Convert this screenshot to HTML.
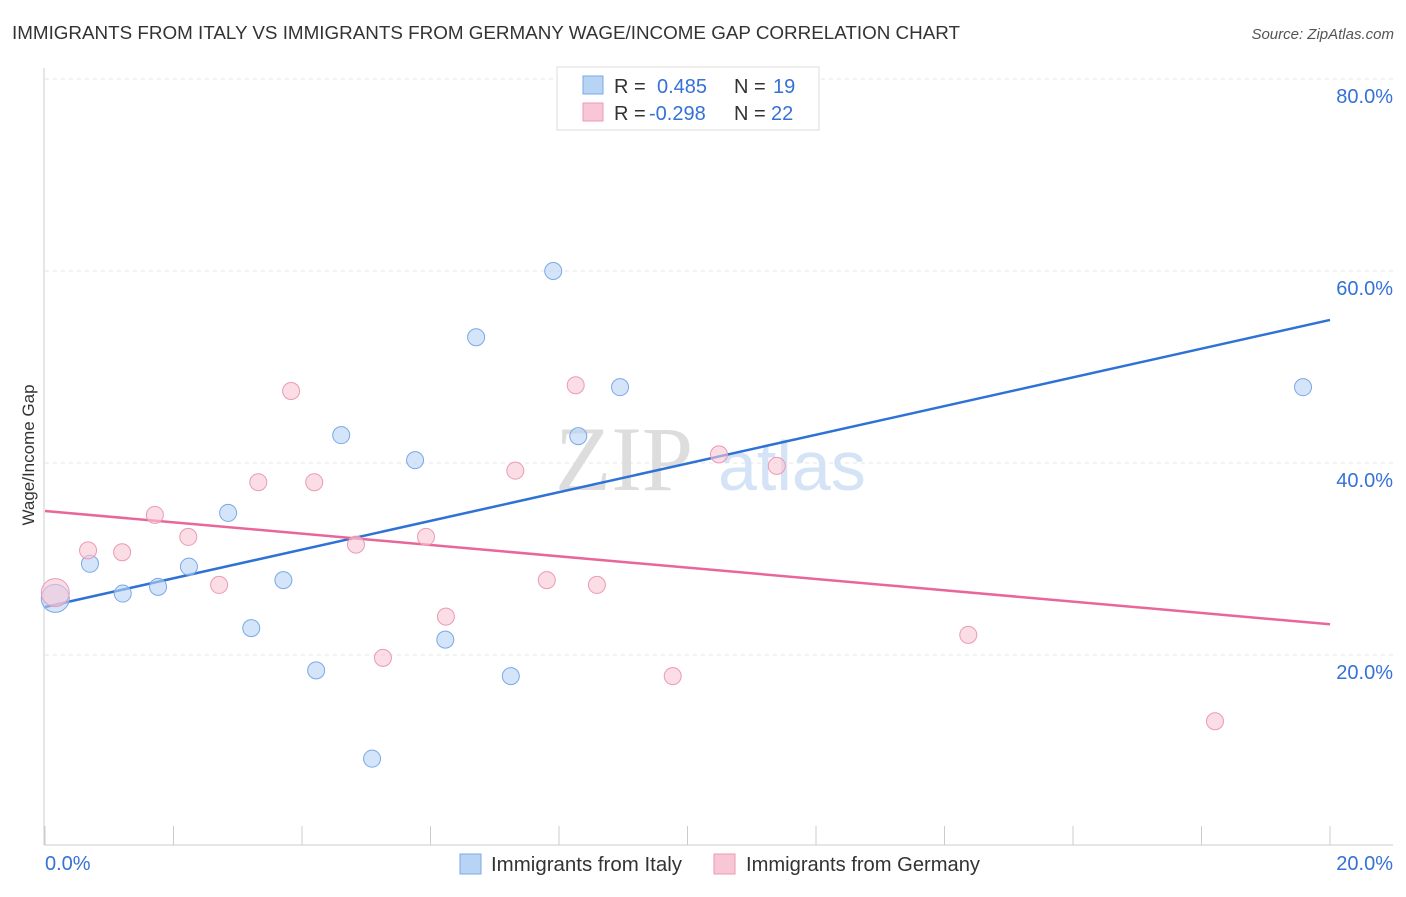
<!DOCTYPE html>
<html><head><meta charset="utf-8"><style>
body{margin:0;background:#fff;font-family:"Liberation Sans",sans-serif;}
</style></head><body>
<svg width="1406" height="892" xmlns="http://www.w3.org/2000/svg" font-family="Liberation Sans, sans-serif">
<text x="12" y="39" font-size="18.5" fill="#333" textLength="948" lengthAdjust="spacingAndGlyphs">IMMIGRANTS FROM ITALY VS IMMIGRANTS FROM GERMANY WAGE/INCOME GAP CORRELATION CHART</text>
<text x="1394" y="39" font-size="15" fill="#555" text-anchor="end" font-style="italic">Source: ZipAtlas.com</text>
<g id="grid"></g>
<g><text x="555" y="490" font-size="92" fill="#ddd" font-family="Liberation Serif, serif">ZIP</text><text x="718" y="490" font-size="70" fill="#d4e3f5">atlas</text></g>
<g id="axes"></g>
<g id="lines"></g>
<g id="pts"></g>
<text transform="translate(34,455) rotate(-90)" font-size="17" fill="#333" text-anchor="middle">Wage/Income Gap</text>
<g>
<rect x="557" y="67" width="262" height="63" fill="#fff" stroke="#ddd"/>
<rect x="583" y="76" width="20" height="18" fill="#b8d4f5" stroke="#7aa8e8"/>
<rect x="583" y="103" width="20" height="18" fill="#f9c6d5" stroke="#eb9ab5"/>
<text x="614" y="93" font-size="20" fill="#333">R = <tspan fill="#3571d6" x="657">0.485</tspan><tspan x="734">N = </tspan><tspan fill="#3571d6" x="773">19</tspan></text>
<text x="614" y="120" font-size="20" fill="#333">R = <tspan fill="#3571d6" x="649">-0.298</tspan><tspan x="734">N = </tspan><tspan fill="#3571d6" x="771">22</tspan></text>
</g>
<g>
<rect x="460" y="854" width="21" height="20" fill="#b8d4f5" stroke="#7aa8e8"/>
<text x="491" y="871" font-size="20" fill="#333" textLength="191" lengthAdjust="spacingAndGlyphs">Immigrants from Italy</text>
<rect x="714" y="854" width="21" height="20" fill="#f9c6d5" stroke="#eb9ab5"/>
<text x="746" y="871" font-size="20" fill="#333" textLength="234" lengthAdjust="spacingAndGlyphs">Immigrants from Germany</text>
</g>
</svg>
<script>
const italyX=[0.16,0.70,1.21,1.76,2.24,2.85,3.21,3.71,4.22,4.61,5.09,5.76,6.23,6.71,7.25,7.91,8.30,8.95,19.58];
const italyY=[25.9,29.5,26.4,27.1,29.2,34.8,22.8,27.8,18.4,42.9,9.2,40.3,21.6,53.1,17.8,60.0,42.8,47.9,47.9];
const germanyX=[0.16,0.67,1.20,1.71,2.23,2.71,3.32,3.83,4.19,4.84,5.26,5.93,6.24,7.32,7.81,8.26,8.59,9.77,10.49,11.39,14.37,18.21];
const germanyY=[26.5,30.9,30.7,34.6,32.3,27.3,38.0,47.5,38.0,31.5,19.7,32.3,24.0,39.2,27.8,48.1,27.3,17.8,40.9,39.7,22.1,13.1];
const italyTrend=[25.0,54.9];
const germanyTrend=[35.0,23.2];
const yTicks=[20,40,60,80];
const yTickLabels=["20.0%","40.0%","60.0%","80.0%"];
const xTicks=[0,2,4,6,8,10,12,14,16,18,20];
const xs=v=>45+v/20*1285, ys=v=>847-v/20*192;
const NS="http://www.w3.org/2000/svg";
function mk(t,a,p){const e=document.createElementNS(NS,t);for(const k in a)e.setAttribute(k,a[k]);p.appendChild(e);return e;}
const grid=document.getElementById('grid'),axes=document.getElementById('axes');
yTicks.forEach((v,i)=>{
 const l=mk('line',{x1:45,x2:1393,y1:ys(v),y2:ys(v),stroke:'#e4e4e4','stroke-dasharray':'4,4'},grid);
 
 
 const t=mk('text',{x:1393,y:ys(v)+24,'font-size':20,fill:'#3571d6','text-anchor':'end'},axes);
 t.textContent=yTickLabels[i];
 
 
});
mk('line',{x1:44,x2:44,y1:68,y2:845,stroke:'#ccc'},axes);
mk('line',{x1:44,x2:1393,y1:845,y2:845,stroke:'#ccc'},axes);
xTicks.forEach(v=>{const l=mk('line',{x1:xs(v),x2:xs(v),y1:826,y2:845,stroke:'#ccc'},axes);
 
 });
let t=mk('text',{x:45,y:870,'font-size':20,fill:'#3571d6'},axes);t.textContent='0.0%';
t=mk('text',{x:1393,y:870,'font-size':20,fill:'#3571d6','text-anchor':'end'},axes);t.textContent='20.0%';
const lines=document.getElementById('lines'),pts=document.getElementById('pts');
function series(X,Y,fill,stroke,name){X.forEach((x,i)=>{const c=mk('circle',{cx:xs(x),cy:ys(Y[i]),r:i==0?14:8.5,fill:fill,'fill-opacity':0.6,stroke:stroke,'stroke-width':1},pts);
 
 });}
series(italyX,italyY,'#b8d4f5','#7aa8e8','italy-point');
series(germanyX,germanyY,'#f9c6d5','#eb9ab5','germany-point');
let l=mk('line',{x1:xs(0),y1:ys(italyTrend[0]),x2:xs(20),y2:ys(italyTrend[1]),stroke:'#2f72d6','stroke-width':2.5},lines);


l=mk('line',{x1:xs(0),y1:ys(germanyTrend[0]),x2:xs(20),y2:ys(germanyTrend[1]),stroke:'#e8679a','stroke-width':2.5},lines);


</script>
</body></html>
